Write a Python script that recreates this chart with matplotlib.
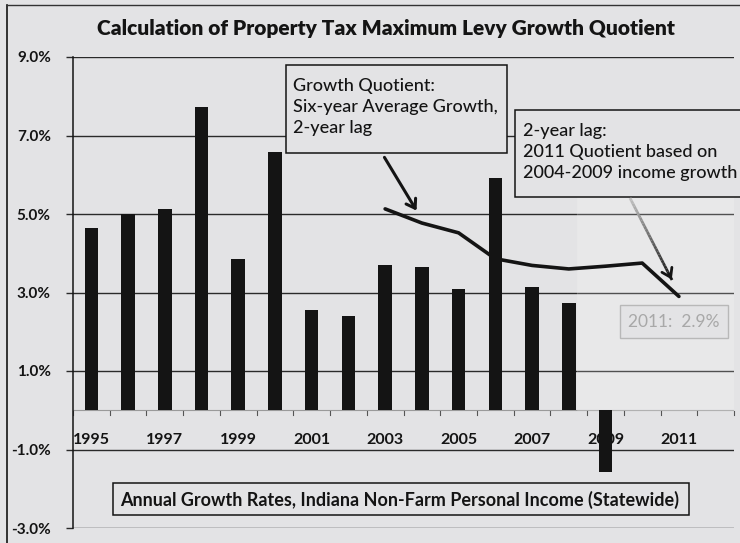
import matplotlib
matplotlib.use("Agg")
import matplotlib.pyplot as plt
from matplotlib.patches import Rectangle, FancyArrowPatch
from matplotlib.lines import Line2D
from matplotlib.collections import LineCollection
import numpy as np

plt.rcParams['font.family'] = ['Lato', 'DejaVu Sans']

# Annual growth rates, Indiana non-farm personal income (%)
years = list(range(1995, 2013))
growth = [4.65, 5.0, 5.12, 7.72, 3.86, 6.58, 2.56, 2.4, 3.7, 3.66, 3.09, 5.92,
          3.13, 2.74, -1.57, None, None, None]
# Growth quotient: six-year average growth, 2-year lag (%)
quot_years = [2003, 2004, 2005, 2006, 2007, 2008, 2009, 2010, 2011]
quotient = [5.13, 4.77, 4.52, 3.86, 3.69, 3.6, 3.67, 3.75, 2.9]
label_years = [1995, 1997, 1999, 2001, 2003, 2005, 2007, 2009, 2011]
y_ticks = [-3, -1, 1, 3, 5, 7, 9]

title = "Calculation of Property Tax Maximum Levy Growth Quotient"
note1 = "Growth Quotient:\nSix-year Average Growth,\n2-year lag"
note2 = "2-year lag:\n2011 Quotient based on\n2004-2009 income growth"
series_label = "Annual Growth Rates, Indiana Non-Farm Personal Income (Statewide)"
last_label = "2011:  2.9%"

W, H = 740, 543
BG = "#e3e3e5"
INK = "#141414"

fig = plt.figure(figsize=(W / 100, H / 100), dpi=100, facecolor=BG)


def fx(px):
    return px / W


def fy(py):
    return 1 - py / H


ax = fig.add_axes([fx(73), fy(528), fx(734) - fx(73), fy(57) - fy(528)])
ax.set_facecolor(BG)
ax.set_xlim(-0.5, len(years) - 0.5)
ax.set_ylim(-3, 9)

idx = {y: i for i, y in enumerate(years)}

# gridlines
for v in y_ticks:
    ax.axhline(v, color="#2a2a2a", lw=1.0, zorder=1)
ax.axhline(0, color="#9a9a9a", lw=0.8, zorder=1)

# bars
bx = [idx[y] for y, g in zip(years, growth) if g is not None]
bv = [g for g in growth if g is not None]
ax.bar(bx, bv, width=0.37, color=INK, zorder=4)

# quotient line
qx = [idx[y] for y in quot_years]
ax.plot(qx, quotient, color=INK, lw=2.6, solid_capstyle="round",
        solid_joinstyle="round", zorder=5)

# category labels sit beneath the bars
for y in label_years:
    ax.text(idx[y], -0.75, str(y), ha="center", va="center", fontsize=11.5,
            fontweight="bold", color=INK, zorder=2)

# category tick marks between bars
ax.set_xticks([])
for b in np.arange(-0.5, len(years) + 0.5, 1.0):
    ax.plot([b, b], [-0.03, -0.13], color="#555555", lw=0.8, zorder=2,
            clip_on=False)

ax.set_yticks(y_ticks)
ax.set_yticklabels([f"{v:.1f}%" for v in y_ticks], fontsize=11,
                   fontweight="bold", color=INK)
ax.tick_params(axis="y", direction="out", length=5, width=1, pad=11,
               color="#2a2a2a")
for s in ["top", "right", "bottom"]:
    ax.spines[s].set_visible(False)
ax.spines["left"].set_color(INK)
ax.spines["left"].set_linewidth(1.1)

# faint highlight panel over the last years
ax.add_patch(Rectangle((fx(577), fy(410)), fx(735) - fx(577), fy(195) - fy(410),
                       transform=fig.transFigure, facecolor="white", alpha=0.18,
                       edgecolor="#f2f2f2", lw=0.8, zorder=1.5))

# outer chart frame
fig.add_artist(Line2D([fx(7), fx(7)], [fy(5), fy(543)], color=INK, lw=1.2))
fig.add_artist(Line2D([fx(7), fx(740)], [fy(5), fy(5)], color="#333333", lw=1.0))

fig.text(fx(386), fy(28), title, ha="center", va="center", fontsize=15,
         fontweight="heavy", color=INK)


def box(x0, y0, x1, y1, ec=INK, lw=1.1, z=7):
    fig.add_artist(Rectangle((fx(x0), fy(y1)), fx(x1) - fx(x0), fy(y0) - fy(y1),
                             transform=fig.transFigure, facecolor=BG,
                             edgecolor=ec, lw=lw, zorder=z))


# callout 1
box(286, 65, 507, 153)
fig.text(fx(293), fy(107), note1, ha="left", va="center", fontsize=13,
         fontweight="medium", color=INK, linespacing=1.35, zorder=8)
arr1 = FancyArrowPatch((fx(383), fy(155)), (fx(418), fy(213)),
                       transform=fig.transFigure, arrowstyle="->,head_length=6,head_width=4",
                       color=INK, lw=2.2, zorder=8)
fig.add_artist(arr1)

# callout 2
box(515, 110, 745, 197)
fig.text(fx(523), fy(152), note2, ha="left", va="center", fontsize=13,
         fontweight="medium", color=INK, linespacing=1.35, zorder=8)

# gradient arrow pointing at the 2011 value
p0 = np.array([630, 198])
p1 = np.array([672, 280])
t = np.linspace(0, 1, 30)
pts = np.array([p0 + (p1 - p0) * ti for ti in t])
segs = [[(fx(a[0]), fy(a[1])), (fx(b[0]), fy(b[1]))] for a, b in zip(pts[:-1], pts[1:])]
cols = [(0.75 - 0.7 * ti,) * 3 for ti in t[:-1]]
fig.add_artist(LineCollection(segs, colors=cols, linewidths=2.0,
                              transform=fig.transFigure, zorder=8))
fig.add_artist(FancyArrowPatch((fx(668), fy(272)), (fx(673), fy(282)),
                               transform=fig.transFigure,
                               arrowstyle="->,head_length=6,head_width=4",
                               color=INK, lw=2.0, zorder=8))

# value label for the last quotient
box(620, 305, 728, 338, ec="#b8b8b8", lw=1.0)
fig.text(fx(674), fy(322), last_label, ha="center", va="center", fontsize=12.5,
         color="#a8a8a8", zorder=8)

# series caption
box(113, 483, 689, 515)
fig.text(fx(400), fy(500), series_label, ha="center", va="center",
         fontsize=13, fontweight="bold", color=INK, zorder=8)

fig.savefig("out.png", dpi=100, facecolor=BG)
